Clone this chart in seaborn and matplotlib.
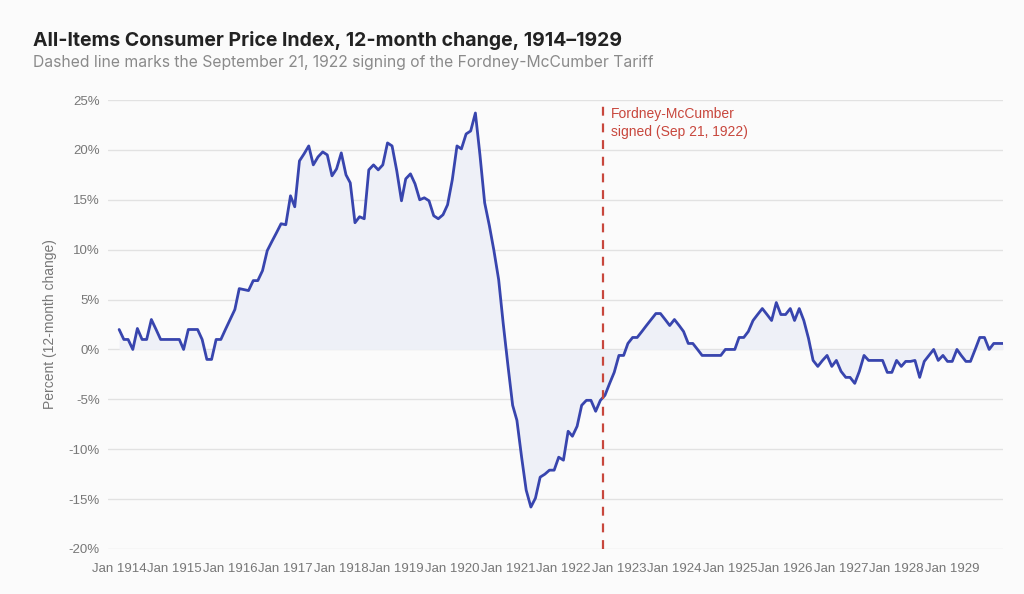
import matplotlib
matplotlib.use('Agg')
import matplotlib.pyplot as plt
import seaborn as sns
import pandas as pd

# 12개월 변화율(%) - 연도별 월간 값
cpi_1914 = [2.0, 1.0, 1.0, 0.0, 2.1, 1.0, 1.0, 3.0, 2.0, 1.0, 1.0, 1.0]
cpi_1915 = [1.0, 1.0, 0.0, 2.0, 2.0, 2.0, 1.0, -1.0, -1.0, 1.0, 1.0, 2.0]
cpi_1916 = [3.0, 4.0, 6.1, 6.0, 5.9, 6.9, 6.9, 7.9, 9.9, 10.8, 11.7, 12.6]
cpi_1917 = [12.5, 15.4, 14.3, 18.9, 19.6, 20.4, 18.5, 19.3, 19.8, 19.5, 17.4, 18.1]
cpi_1918 = [19.7, 17.5, 16.7, 12.7, 13.3, 13.1, 18.0, 18.5, 18.0, 18.5, 20.7, 20.4]
cpi_1919 = [17.9, 14.9, 17.1, 17.6, 16.6, 15.0, 15.2, 14.9, 13.4, 13.1, 13.5, 14.5]
cpi_1920 = [17.0, 20.4, 20.1, 21.6, 21.9, 23.7, 19.5, 14.7, 12.4, 9.9, 7.0, 2.6]
cpi_1921 = [-1.6, -5.6, -7.1, -10.8, -14.1, -15.8, -14.9, -12.8, -12.5, -12.1, -12.1, -10.8]
cpi_1922 = [-11.1, -8.2, -8.7, -7.7, -5.6, -5.1, -5.1, -6.2, -5.1, -4.6, -3.4, -2.3]
cpi_1923 = [-0.6, -0.6, 0.6, 1.2, 1.2, 1.8, 2.4, 3.0, 3.6, 3.6, 3.0, 2.4]
cpi_1924 = [3.0, 2.4, 1.8, 0.6, 0.6, 0.0, -0.6, -0.6, -0.6, -0.6, -0.6, 0.0]
cpi_1925 = [0.0, 0.0, 1.2, 1.2, 1.8, 2.9, 3.5, 4.1, 3.5, 2.9, 4.7, 3.5]
cpi_1926 = [3.5, 4.1, 2.9, 4.1, 2.9, 1.1, -1.1, -1.7, -1.1, -0.6, -1.7, -1.1]
cpi_1927 = [-2.2, -2.8, -2.8, -3.4, -2.2, -0.6, -1.1, -1.1, -1.1, -1.1, -2.3, -2.3]
cpi_1928 = [-1.1, -1.7, -1.2, -1.2, -1.1, -2.8, -1.2, -0.6, 0.0, -1.1, -0.6, -1.2]
cpi_1929 = [-1.2, 0.0, -0.6, -1.2, -1.2, 0.0, 1.2, 1.2, 0.0, 0.6, 0.6, 0.6]

years = [cpi_1914, cpi_1915, cpi_1916, cpi_1917, cpi_1918, cpi_1919, cpi_1920, cpi_1921,
         cpi_1922, cpi_1923, cpi_1924, cpi_1925, cpi_1926, cpi_1927, cpi_1928, cpi_1929]
values = [v for yr in years for v in yr]
months = pd.date_range('1914-01-01', periods=len(values), freq='MS')
df = pd.DataFrame({'date': months, 'pct': values})

tick_years = list(range(1914, 1930))
tariff_date = pd.Timestamp('1922-09-21')

bg = '#fbfbfb'
line_c = '#3845ae'
fill_c = '#eef0f7'
red_c = '#c8473d'
grid_c = '#e2e2e2'
tick_c = '#777777'

sns.set_style('white')
plt.rcParams['font.family'] = ['Liberation Sans', 'DejaVu Sans']

fig = plt.figure(figsize=(10.24, 5.94), dpi=100, facecolor=bg)
ax = fig.add_axes([0.1055, 0.0758, 0.874, 0.7558], facecolor=bg)

# 0 기준선까지 채우기
ax.fill_between(df['date'], df['pct'], 0, color=fill_c, linewidth=0, zorder=1)
sns.lineplot(x='date', y='pct', data=df, ax=ax, color=line_c, linewidth=2, zorder=3)

# 관세 서명일 점선
ax.axvline(tariff_date, color=red_c, linestyle=(0, (4, 3.5)), linewidth=1.6, zorder=4)
ax.text(pd.Timestamp('1922-11-10'), 24.3, 'Fordney-McCumber\nsigned (Sep 21, 1922)',
        color=red_c, fontsize=10, va='top', ha='left', linespacing=1.35)

ax.set_ylim(-20, 25)
ax.set_yticks(range(-20, 26, 5))
ax.set_yticklabels([f'{t}%' for t in range(-20, 26, 5)])
ax.set_xlim(pd.Timestamp('1913-10-20'), pd.Timestamp('1929-12-01'))
ax.set_xticks([pd.Timestamp(f'{y}-01-01') for y in tick_years])
ax.set_xticklabels([f'Jan {y}' for y in tick_years])

ax.grid(axis='y', color=grid_c, linewidth=1)
ax.set_axisbelow(True)
for s in ax.spines.values():
    s.set_visible(False)
ax.tick_params(axis='both', length=0, labelsize=9.5, colors=tick_c)
ax.tick_params(axis='x', pad=10)
ax.tick_params(axis='y', pad=6)
ax.set_xlabel('')
ax.set_ylabel('Percent (12-month change)', color=tick_c, fontsize=10, labelpad=8)

fig.text(0.032, 0.923, 'All-Items Consumer Price Index, 12-month change, 1914–1929',
         fontsize=14, fontweight='bold', color='#222222', family=['Inter', 'DejaVu Sans'])
fig.text(0.032, 0.887, 'Dashed line marks the September 21, 1922 signing of the Fordney-McCumber Tariff',
         fontsize=11.3, color='#8a8a8a', family=['Inter', 'DejaVu Sans'])

fig.savefig('out.png', dpi=100, facecolor=bg)
